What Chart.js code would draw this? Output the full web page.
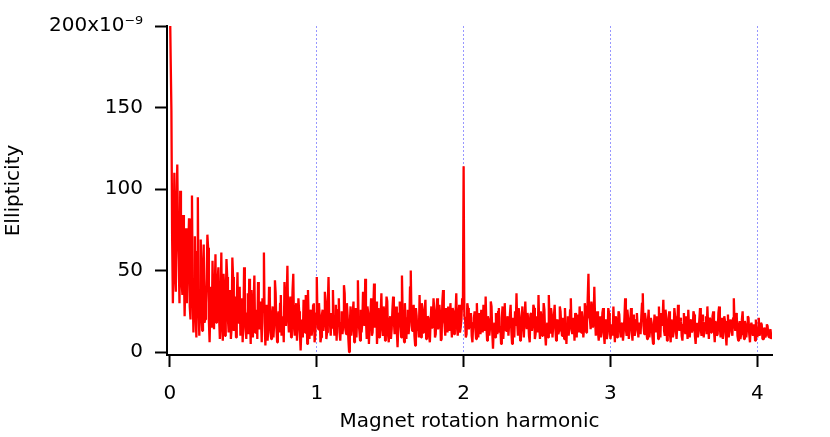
<!DOCTYPE html>
<html>
<head>
<meta charset="utf-8">
<script src="https://cdn.jsdelivr.net/npm/chart.js@4/dist/chart.umd.min.js"></script>
<style>
  html, body { margin: 0; padding: 0; background: #ffffff; }
  #wrap { width: 830px; height: 437px; }
</style>
</head>
<body>
<div id="wrap"><canvas id="c" width="830" height="437"></canvas></div>
<script>
// Harmonic sampling step (x of point i = i * harmonicStep)
const harmonicStep = 0.005;

// Ellipticity values (units of 1e-9)
const ellipticity = [
  215,180,148,70,30,62,110,48,37,90,115,72,56,30,99,60,42,35,84,50,
  22,44,76,30,50,65,82,28,20,58,96,35,12,40,71,24,9,62,95,28,
  10,38,69,22,13,52,66,18,20,30,45,72,64,20,6,25,40,15,56,33,
  14,35,60,18,25,44,52,21,8,30,61,16,7,48,38,10,28,57,46,20,
  12,27,38,8,15,58,46,13,20,34,9,30,49,18,22,40,10,26,33,6,
  18,52,28,14,8,24,36,11,45,20,5,38,24,9,30,47,12,19,26,8,
  43,16,14,31,20,6,33,25,61,18,4,29,22,7,15,40,34,12,8,22,
  28,9,18,44,36,15,6,20,25,12,30,35,10,17,22,6,43,26,16,33,
  53,21,12,28,34,9,20,38,48,15,10,24,30,7,16,33,25,12,1,14,
  20,9,32,17,12,35,27,5,38,19,8,26,22,10,15,29,30,6,11,24,
  46,20,14,30,21,6,9,23,26,13,18,37,31,8,12,29,46,21,17,10,
  24,15,38,19,10,22,29,7,20,26,33,12,7,18,25,11,16,41,36,14,
  11,30,22,8,0,17,28,10,15,24,31,6,19,27,9,21,44,18,13,7,
  26,12,18,37,30,16,45,20,8,28,24,5,17,22,33,10,12,27,42,15,
  20,31,5,16,27,9,15,23,36,14,10,28,25,7,19,34,31,11,6,18,
  22,8,14,26,34,19,11,20,28,13,3,15,24,31,17,9,47,22,12,6,
  30,17,8,21,26,11,16,40,50,20,13,24,29,10,4,27,22,13,15,9,
  35,14,9,30,25,12,18,27,32,8,14,22,21,10,6,18,28,15,19,33,
  26,9,11,24,33,14,16,29,23,7,8,31,38,20,17,10,27,21,12,28,
  22,13,30,18,9,27,25,11,18,24,36,15,10,23,29,12,15,20,33,26,
  114,22,20,9,11,30,27,14,16,21,24,10,6,18,21,25,14,8,30,16,
  9,24,19,11,26,17,12,29,23,13,34,16,7,22,20,10,15,31,28,12,
  2,14,18,9,24,20,11,25,27,12,16,5,21,28,8,17,30,14,13,19,
  22,10,17,23,29,13,5,21,19,9,25,16,36,18,10,27,22,7,15,20,
  28,14,9,20,31,18,14,24,20,10,6,23,24,13,17,29,27,8,11,22,
  19,12,35,16,8,25,21,10,14,30,26,11,4,15,18,9,35,20,12,27,
  23,9,16,22,29,14,7,19,20,11,13,28,25,15,10,21,18,8,27,16,
  5,17,22,10,15,26,33,14,11,21,19,7,24,16,9,23,17,12,28,19,
  12,25,21,9,14,30,26,12,18,33,48,22,20,14,31,27,15,18,40,21,
  10,18,25,12,7,16,22,9,13,24,27,11,5,20,19,8,11,27,24,14,
  8,12,17,10,28,15,6,22,20,9,14,25,23,13,9,17,18,7,12,21,
  33,14,10,26,21,8,15,19,27,12,7,23,19,10,13,20,24,15,9,18,
  17,11,22,30,36,16,11,24,20,12,8,19,26,9,14,21,18,10,5,15,
  23,17,12,22,19,8,28,14,9,24,16,20,32,13,10,26,21,7,14,19,
  25,11,6,20,18,9,12,27,22,14,8,16,29,18,13,21,19,10,7,17,
  24,15,11,22,17,8,26,16,9,19,20,12,14,25,23,10,5,14,18,9,
  12,20,27,14,10,23,19,9,15,18,22,11,28,16,8,21,20,12,13,22,
  25,13,6,19,17,10,11,24,28,15,9,18,21,8,14,22,19,11,4,16,
  23,9,12,20,18,14,10,21,33,17,13,24,22,10,7,16,19,8,11,20,
  25,12,8,19,17,9,14,22,21,11,6,16,18,13,10,17,15,7,20,13,
  9,15,21,10,12,18,17,8,8,14,15,9,11,17,16,10,9,13,14,8,12
];

// Tick values and labels
const xTickValues = [0, 1, 2, 3, 4];
const xTickLabels = ['0', '1', '2', '3', '4'];
const yTickValues = [0, 50, 100, 150, 200];
const yTickLabels = ['0', '50', '100', '150', '200x10\u207B\u2079'];

const xTitle = 'Magnet rotation harmonic';
const yTitle = 'Ellipticity';

const points = ellipticity.map((v, i) => ({ x: +(i * harmonicStep).toFixed(3), y: v }));

const FONT = 'DejaVu Sans';

new Chart(document.getElementById('c'), {
  type: 'line',
  data: {
    datasets: [{
      data: points,
      borderColor: '#ff0000',
      borderWidth: 2.3,
      borderJoinStyle: 'bevel',
      pointRadius: 0,
      tension: 0,
      fill: false
    }]
  },
  options: {
    responsive: false,
    animation: false,
    events: [],
    layout: { padding: { top: 26, right: 58, left: 0, bottom: 0 } },
    plugins: { legend: { display: false }, tooltip: { enabled: false } },
    scales: {
      x: {
        type: 'linear',
        min: -0.02,
        max: 4.1,
        afterBuildTicks: (s) => { s.ticks = xTickValues.map(v => ({ value: v })); },
        afterFit: (s) => { s.height = 82; },
        border: { display: true, color: '#000000', width: 2, dash: [2, 2] },
        grid: {
          drawOnChartArea: true,
          drawTicks: true,
          color: (ctx) => (ctx.tick && ctx.tick.value === 0) ? 'rgba(0,0,0,0)' : 'rgba(140,140,255,0.9)',
          lineWidth: 1,
          tickColor: '#000000',
          tickWidth: 2,
          tickLength: 12,
          tickBorderDash: []
        },
        ticks: {
          color: '#000000',
          font: { family: FONT, size: 20 },
          padding: 15,
          maxRotation: 0,
          callback: (value) => {
            const idx = xTickValues.indexOf(value);
            return idx >= 0 ? xTickLabels[idx] : '';
          }
        },
        title: {
          display: true,
          text: xTitle,
          color: '#000000',
          font: { family: FONT, size: 20 },
          padding: { top: 0, bottom: 3 }
        }
      },
      y: {
        type: 'linear',
        min: -1.8,
        max: 200,
        afterBuildTicks: (s) => { s.ticks = yTickValues.map(v => ({ value: v })); },
        afterFit: (s) => { s.width = 167; },
        border: { display: true, color: '#000000', width: 2 },
        grid: {
          drawOnChartArea: false,
          drawTicks: true,
          color: '#000000',
          tickColor: '#000000',
          tickWidth: 2,
          tickLength: 12
        },
        ticks: {
          color: '#000000',
          font: { family: FONT, size: 20 },
          padding: 12,
          callback: (value) => {
            const idx = yTickValues.indexOf(value);
            return idx >= 0 ? yTickLabels[idx] : '';
          }
        },
        title: {
          display: true,
          text: yTitle,
          color: '#000000',
          font: { family: FONT, size: 20 },
          padding: { top: 2, bottom: 0 }
        }
      }
    }
  }
});
</script>
</body>
</html>
